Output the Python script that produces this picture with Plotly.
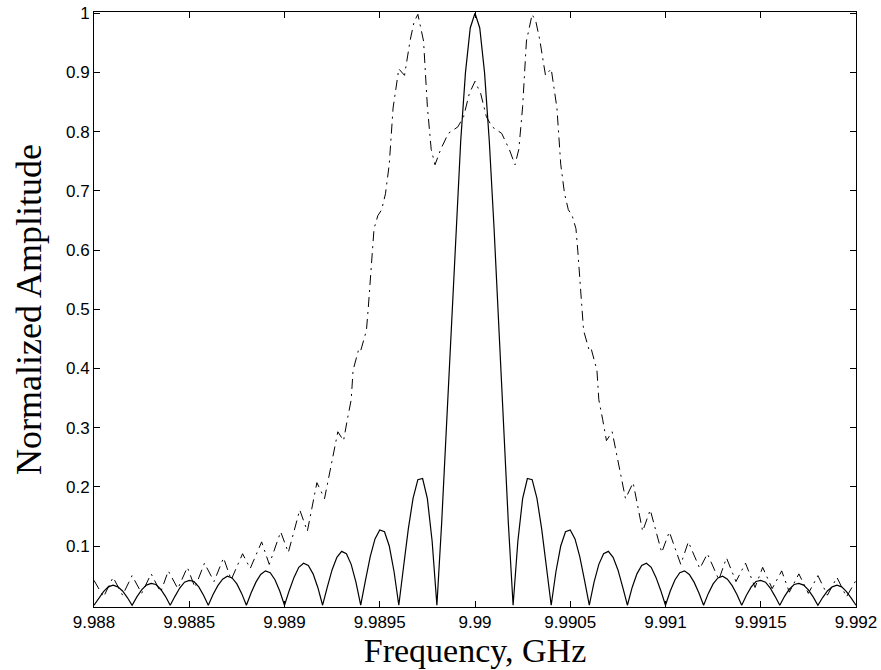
import plotly.graph_objects as go

# ---- Solid trace: sampled on a regular grid (x0 + i*dx) ----
SOLID_X0 = 9.988
SOLID_DX = 0.000025
solid_amp = [
    0.000, 0.012, 0.023, 0.031, 0.034, 0.031, 0.024, 0.013,
    0.000, 0.014, 0.026, 0.034, 0.037, 0.035, 0.027, 0.015,
    0.000, 0.015, 0.029, 0.039, 0.042, 0.040, 0.031, 0.017,
    0.000, 0.018, 0.033, 0.044, 0.049, 0.046, 0.036, 0.020,
    0.000, 0.021, 0.039, 0.052, 0.058, 0.055, 0.043, 0.024,
    0.000, 0.025, 0.047, 0.064, 0.071, 0.067, 0.053, 0.030,
    0.000, 0.031, 0.060, 0.081, 0.091, 0.087, 0.069, 0.039,
    0.000, 0.042, 0.082, 0.112, 0.127, 0.124, 0.100, 0.057,
    0.000, 0.065, 0.129, 0.181, 0.212, 0.214, 0.180, 0.108,
    0.000, 0.139, 0.300, 0.471, 0.637, 0.784, 0.900, 0.975,
    1.000,
    0.975, 0.900, 0.784, 0.637, 0.471, 0.300, 0.139, 0.000,
    0.108, 0.180, 0.214, 0.212, 0.181, 0.129, 0.065, 0.000,
    0.057, 0.100, 0.124, 0.127, 0.112, 0.082, 0.042, 0.000,
    0.039, 0.069, 0.087, 0.091, 0.081, 0.060, 0.031, 0.000,
    0.030, 0.053, 0.067, 0.071, 0.064, 0.047, 0.025, 0.000,
    0.024, 0.043, 0.055, 0.058, 0.052, 0.039, 0.021, 0.000,
    0.020, 0.036, 0.046, 0.049, 0.044, 0.033, 0.018, 0.000,
    0.017, 0.031, 0.040, 0.042, 0.039, 0.029, 0.015, 0.000,
    0.015, 0.027, 0.035, 0.037, 0.034, 0.026, 0.014, 0.000,
    0.013, 0.024, 0.031, 0.034, 0.031, 0.023, 0.012, 0.000,
]

# ---- Dash-dot trace ----
dash_freq = [
    9.98800, 9.98805, 9.98810, 9.98815, 9.98820, 9.98825, 9.98830, 9.98835,
    9.98839, 9.98844, 9.98849, 9.98853, 9.98858, 9.98863, 9.98868, 9.98872,
    9.98878, 9.98882, 9.98888, 9.98892, 9.98898, 9.98902, 9.98908, 9.98912,
    9.98917, 9.98921, 9.98928, 9.98931, 9.98933, 9.98935, 9.98936, 9.98939,
    9.98940, 9.98943, 9.98944, 9.98945, 9.98946, 9.98947, 9.98949, 9.98951,
    9.98953, 9.98955, 9.98957, 9.98960, 9.98963, 9.98966, 9.98968, 9.98970,
    9.98973, 9.98975, 9.98977, 9.98979, 9.98982, 9.98986, 9.98991, 9.98994,
    9.98997, 9.99000,
    9.99003, 9.99006, 9.99009, 9.99014, 9.99018, 9.99021, 9.99023, 9.99025,
    9.99027, 9.99030, 9.99032, 9.99034, 9.99037, 9.99040, 9.99043, 9.99045,
    9.99047, 9.99049, 9.99051, 9.99053, 9.99054, 9.99055, 9.99056, 9.99057,
    9.99060, 9.99061, 9.99064, 9.99065, 9.99067, 9.99069, 9.99072, 9.99079,
    9.99083, 9.99088, 9.99092, 9.99098, 9.99102, 9.99108, 9.99112, 9.99118,
    9.99122, 9.99128, 9.99132, 9.99137, 9.99142, 9.99147, 9.99151, 9.99156,
    9.99161, 9.99165, 9.99170, 9.99175, 9.99180, 9.99185, 9.99190, 9.99195,
    9.99200,
]
dash_amp = [
    0.042, 0.014, 0.047, 0.017, 0.050, 0.020, 0.053, 0.022,
    0.058, 0.028, 0.064, 0.030, 0.071, 0.040, 0.080, 0.043,
    0.087, 0.062, 0.107, 0.069, 0.124, 0.089, 0.161, 0.125,
    0.207, 0.180, 0.293, 0.278, 0.314, 0.347, 0.397, 0.433,
    0.430, 0.464, 0.503, 0.553, 0.597, 0.636, 0.658, 0.668,
    0.695, 0.745, 0.840, 0.906, 0.895, 0.955, 0.985, 0.998,
    0.953, 0.842, 0.770, 0.744, 0.770, 0.797, 0.808, 0.825,
    0.864, 0.885,
    0.864, 0.825, 0.808, 0.797, 0.770, 0.744, 0.770, 0.842,
    0.953, 0.998, 0.985, 0.955, 0.895, 0.906, 0.840, 0.745,
    0.695, 0.668, 0.658, 0.636, 0.597, 0.553, 0.503, 0.464,
    0.430, 0.433, 0.397, 0.347, 0.314, 0.278, 0.293, 0.180,
    0.207, 0.125, 0.161, 0.089, 0.124, 0.069, 0.107, 0.062,
    0.087, 0.043, 0.080, 0.040, 0.071, 0.030, 0.064, 0.028,
    0.058, 0.022, 0.053, 0.020, 0.050, 0.017, 0.047, 0.014,
    0.042,
]

x_tickvals = [9.988, 9.9885, 9.989, 9.9895, 9.99, 9.9905, 9.991, 9.9915, 9.992]
x_ticktext = ["9.988", "9.9885", "9.989", "9.9895", "9.99", "9.9905", "9.991", "9.9915", "9.992"]
y_tickvals = [0.1, 0.2, 0.3, 0.4, 0.5, 0.6, 0.7, 0.8, 0.9, 1.0]
y_ticktext = ["0.1", "0.2", "0.3", "0.4", "0.5", "0.6", "0.7", "0.8", "0.9", "1"]

fig = go.Figure()
fig.add_trace(go.Scatter(
    x0=SOLID_X0, dx=SOLID_DX, y=solid_amp, mode="lines",
    line=dict(color="black", width=1.2), showlegend=False, hoverinfo="skip",
))
fig.add_trace(go.Scatter(
    x=dash_freq, y=dash_amp, mode="lines",
    line=dict(color="black", width=1, dash="10px,5px,2px,5px"),
    showlegend=False, hoverinfo="skip",
))

tick_font = dict(family="Liberation Sans, Arial, sans-serif", size=17, color="black")
xtitle_font = dict(family="Liberation Serif, Times New Roman, serif", size=34, color="black")
ytitle_font = dict(family="Liberation Serif, Times New Roman, serif", size=36, color="black")

fig.update_layout(
    width=881, height=670,
    margin=dict(l=94, r=21, t=4, b=63),
    paper_bgcolor="white", plot_bgcolor="white",
    xaxis=dict(
        range=[9.988, 9.992], tickvals=x_tickvals, ticktext=x_ticktext,
        ticks="inside", ticklen=6, tickcolor="black", tickwidth=1,
        showline=True, linecolor="black", linewidth=1, mirror="allticks",
        showgrid=False, zeroline=False, tickfont=tick_font,
        ticklabeloverflow="allow",
        title=dict(text="Frequency, GHz", font=xtitle_font, standoff=0),
    ),
    yaxis=dict(
        range=[-0.003, 1.002], tickvals=y_tickvals, ticktext=y_ticktext,
        ticks="inside", ticklen=6, tickcolor="black", tickwidth=1,
        showline=True, linecolor="black", linewidth=1, mirror="allticks",
        showgrid=False, zeroline=False, tickfont=tick_font,
        ticklabeloverflow="allow",
        title=dict(text="Normalized Amplitude", font=ytitle_font, standoff=13),
    ),
)

fig.write_html("out.html")
